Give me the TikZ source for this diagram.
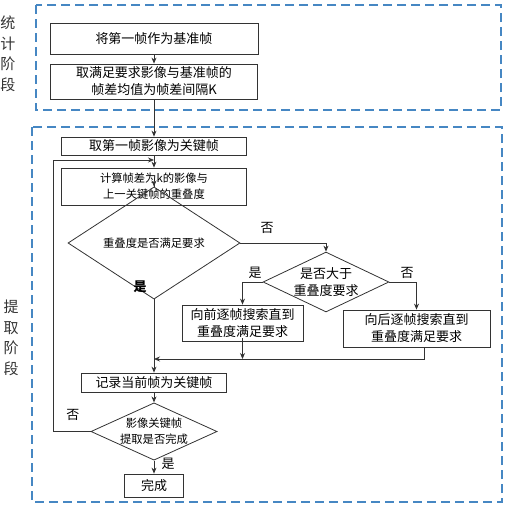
\documentclass[tikz,border=0pt]{standalone}
\usepackage{fontspec}
\setmainfont{Noto Sans CJK SC}
\usetikzlibrary{arrows.meta,shapes.geometric}
\tikzset{every node/.style={font=\fontsize{13}{17}\selectfont, inner sep=0pt, align=center}}
\colorlet{linecol}{black!80}
\colorlet{textcol}{black}
\definecolor{stagecol}{RGB}{70,135,195}
\tikzset{
  procbox/.style={draw=linecol, line width=0.8pt, rectangle, text=textcol},
  decision/.style={draw=linecol, line width=0.8pt, diamond, text=textcol},
  stageframe/.style={draw=stagecol, line width=1.3pt, dash pattern=on 9pt off 5pt},
  stagelabel/.style={font=\fontsize{15}{20.5}\selectfont, text=black!80},
  flow/.style={->, draw=linecol, line width=0.8pt},
  small/.style={font=\fontsize{11.3}{16}\selectfont}
}

\begin{document}
\begin{tikzpicture}[x=1pt, y=-1pt, >={Stealth[length=6pt, width=5pt]}]

  \useasboundingbox (0,0) rectangle (506,507);

  % Stage frames.
  \draw[stageframe] (36,5) rectangle (501,110);
  \draw[stageframe] (32,127) rectangle (502,502);

  % Stage labels.
  \node[stagelabel] (stat) at (8,54) {统\\计\\阶\\段};
  \node[stagelabel] (extr) at (11,338) {提\\取\\阶\\段};

  % Statistics stage.
  \node[procbox, minimum width=208pt, minimum height=31pt] (base) at (154,38.5)
    {将第一帧作为基准帧};
  \node[procbox, minimum width=207pt, minimum height=35pt] (interval) at (154,81.5)
    {取满足要求影像与基准帧的\\帧差均值为帧差间隔K};

  % Extraction stage.
  \node[procbox, minimum width=185pt, minimum height=18pt] (first) at (154,146)
    {取第一帧影像为关键帧};
  \node[procbox, small, minimum width=185pt, minimum height=37pt] (overlap) at (154,186.5)
    {计算帧差为k的影像与\\上一关键帧的重叠度};
  \node[decision, small, minimum width=172pt, minimum height=57pt] (ok) at (154,243)
    {重叠度是否满足要求};
  \node[decision, shape aspect=2.1, minimum width=122pt, minimum height=58pt] (larger) at (326,282)
    {是否大于\\重叠度要求};
  \node[procbox, minimum width=121pt, minimum height=36pt] (forward) at (242.5,323)
    {向前逐帧搜索直到\\重叠度满足要求};
  \node[procbox, minimum width=147pt, minimum height=37pt] (backward) at (416.5,328.5)
    {向后逐帧搜索直到\\重叠度满足要求};
  \node[procbox, minimum width=145pt, minimum height=19pt] (record) at (154,382.5)
    {记录当前帧为关键帧};
  \node[decision, small, shape aspect=2.2, minimum width=125pt, minimum height=57pt] (done) at (154,431.5)
    {影像关键帧\\提取是否完成};
  \node[procbox, minimum width=59pt, minimum height=23pt] (finish) at (154,485.5)
    {完成};

  % Junction points.
  \coordinate (merge) at (154,359);
  \coordinate (loop) at (53,160);
  \coordinate (reentry) at (154,160);

  % Connectors.
  \draw[flow] (base) -- (interval);
  \draw[flow] (interval) -- (first);
  \draw[flow] (first) -- (overlap);
  \draw[flow] (overlap) -- (ok);
  \draw[flow] (ok.east) -| (larger.north);
  \draw[flow] (larger.west) -| (forward.north);
  \draw[flow] (larger.east) -| (backward.north);
  \draw[flow] ([yshift=3pt]forward.south) -- (forward.south |- merge);
  \draw[flow] ([xshift=8pt]backward.south) |- (merge);
  \draw[flow] (ok.south) -- (record.north);
  \draw[flow] (record) -- (done);
  \draw[flow] (done) -- (finish);
  \draw[flow] (done.west) -| (loop) -- (reentry);

  % Branch labels.
  \node (ok-no) at (267,228) {否};
  \node[font=\fontsize{13}{17}\selectfont\bfseries] (ok-yes) at (140,287) {是};
  \node (larger-yes) at (255,273) {是};
  \node (larger-no) at (407,273) {否};
  \node (done-no) at (73,415) {否};
  \node (done-yes) at (168,464) {是};

\end{tikzpicture}
\end{document}
